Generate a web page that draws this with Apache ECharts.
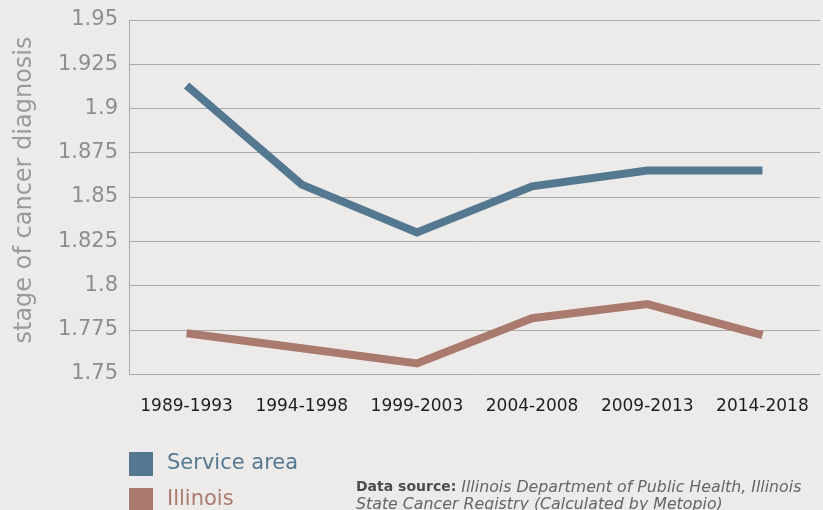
<!DOCTYPE html>
<html>
<head>
<meta charset="utf-8">
<script src="https://cdn.jsdelivr.net/npm/echarts@6/dist/echarts.min.js"></script>
<style>
  html, body { margin: 0; padding: 0; background: #ECEBE9; }
  #chart { width: 823px; height: 510px; }
</style>
</head>
<body>
<div id="chart"></div>
<script>
// Average stage of cancer at diagnosis, by five-year period
const periods = ['1989-1993', '1994-1998', '1999-2003', '2004-2008', '2009-2013', '2014-2018'];
const serviceArea = [1.913, 1.857, 1.830, 1.856, 1.865, 1.865];
const illinois = [1.773, 1.7645, 1.756, 1.7815, 1.7895, 1.772];
const yTicks = ['1.75', '1.775', '1.8', '1.825', '1.85', '1.875', '1.9', '1.925', '1.95'];

const BLUE = '#557891';
const BROWN = '#AB7A6E';
const FONT = '"DejaVu Sans", "Noto Sans", sans-serif';

function legendFor(name, color, top) {
  return {
    orient: 'vertical',
    left: 129,
    top: top,
    padding: 0,
    itemWidth: 24,
    itemHeight: 24,
    icon: 'rect',
    data: [{ name: name, itemStyle: { color: color } }],
    textStyle: { color: color, fontSize: 21, fontFamily: FONT, padding: [3, 0, 0, 9] }
  };
}

const chart = echarts.init(document.getElementById('chart'));
chart.setOption({
  backgroundColor: '#ECEBE9',
  animation: false,
  grid: { left: 129, right: 3, top: 20, bottom: 136, containLabel: false, outerBoundsMode: 'none' },
  legend: [
    legendFor('Service area', BLUE, 452),
    legendFor('Illinois', BROWN, 488)
  ],
  xAxis: {
    type: 'category',
    data: periods,
    boundaryGap: true,
    axisLine: { show: false },
    axisTick: { show: false },
    axisLabel: { interval: 0, hideOverlap: false, color: '#1e1e1e', fontSize: 17, fontFamily: FONT, margin: 24 }
  },
  yAxis: {
    type: 'value',
    min: 1.75,
    max: 1.95,
    interval: 0.025,
    axisLine: { show: true, lineStyle: { color: '#aaaaaa', width: 1 } },
    axisTick: { show: false },
    axisLabel: {
      color: '#8e8e8e',
      fontSize: 21,
      fontFamily: FONT,
      margin: 11,
      formatter: function (v) {
        const s = yTicks.find(t => Math.abs(parseFloat(t) - v) < 1e-6);
        return s !== undefined ? s : String(v);
      }
    },
    splitLine: { lineStyle: { color: '#a9a9a9', width: 1 } }
  },
  series: [
    {
      name: 'Service area',
      type: 'line',
      data: serviceArea,
      symbol: 'none',
      itemStyle: { color: BLUE },
      lineStyle: { color: BLUE, width: 8, cap: 'butt', join: 'miter' }
    },
    {
      name: 'Illinois',
      type: 'line',
      data: illinois,
      symbol: 'none',
      itemStyle: { color: BROWN },
      lineStyle: { color: BROWN, width: 8, cap: 'butt', join: 'miter' }
    }
  ],
  graphic: [
    {
      type: 'text',
      x: 25,
      y: 190,
      rotation: Math.PI / 2,
      style: {
        text: 'stage of cancer diagnosis',
        fill: '#9a9a9a',
        font: '24px ' + FONT,
        align: 'center',
        verticalAlign: 'middle'
      }
    },
    {
      type: 'text',
      left: 356,
      top: 479,
      style: {
        text: '{b|Data source:} {i|Illinois Department of Public Health, Illinois}\n{i|State Cancer Registry (Calculated by Metopio)}',
        fill: '#555555',
        font: '15.8px ' + FONT,
        lineHeight: 17,
        rich: {
          b: { fontWeight: 'bold', fontSize: 14, fontFamily: FONT, fill: '#4d4d4d', lineHeight: 17 },
          i: { fontStyle: 'italic', fontSize: 15.8, fontFamily: FONT, fill: '#666666', lineHeight: 17 }
        }
      }
    }
  ]
});
</script>
</body>
</html>
